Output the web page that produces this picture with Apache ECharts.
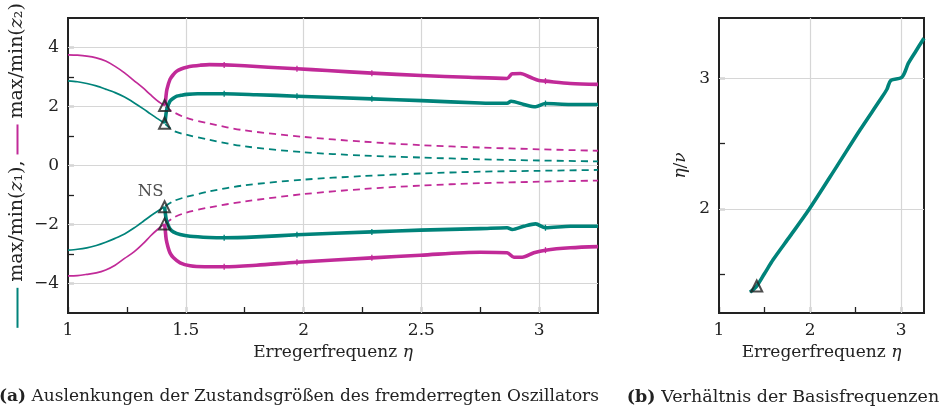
<!DOCTYPE html>
<html>
<head>
<meta charset="utf-8">
<script src="https://cdn.jsdelivr.net/npm/echarts@6/dist/echarts.min.js"></script>
<style>
  html, body { margin: 0; padding: 0; background: #fff; }
  #chart { width: 948px; height: 411px; }
</style>
</head>
<body>
<div id="chart"></div>
<script>
// ---- Left panel: extrema of z1 / z2 over the excitation frequency eta ----
// Branch before the Neimark–Sacker point (periodic solution, stable)
const etaPre   = [1.0, 1.04, 1.08, 1.12, 1.16, 1.2, 1.24, 1.28, 1.32, 1.35, 1.38, 1.41];
const z2MaxPre = [3.75, 3.74, 3.71, 3.65, 3.54, 3.36, 3.14, 2.88, 2.62, 2.40, 2.19, 2.03];
const z1MaxPre = [2.87, 2.84, 2.78, 2.70, 2.59, 2.47, 2.32, 2.13, 1.92, 1.75, 1.59, 1.43];
const z1MinPre = [-2.87, -2.84, -2.79, -2.71, -2.60, -2.47, -2.32, -2.12, -1.89, -1.71, -1.55, -1.40];
const z2MinPre = [-3.74, -3.73, -3.69, -3.64, -3.54, -3.38, -3.15, -2.93, -2.64, -2.39, -2.17, -1.98];

// Quasi-periodic branch after the NS point (stable, thick)
const etaZ2Max = [1.412, 1.416, 1.42, 1.433, 1.447, 1.462, 1.48, 1.504, 1.53, 1.561, 1.6, 1.663, 1.75, 1.85, 1.972, 2.1, 2.29, 2.5, 2.7, 2.864, 2.886, 2.921, 2.963, 2.999, 3.027, 3.133, 3.25];
const z2MaxQp  = [2.03, 2.35, 2.58, 2.92, 3.08, 3.20, 3.27, 3.33, 3.37, 3.40, 3.42, 3.41, 3.38, 3.33, 3.28, 3.22, 3.13, 3.05, 2.99, 2.95, 3.11, 3.12, 2.99, 2.88, 2.86, 2.78, 2.75];
const etaZ1Max = [1.412, 1.416, 1.42, 1.433, 1.447, 1.462, 1.48, 1.504, 1.55, 1.663, 1.8, 1.972, 2.29, 2.5, 2.75, 2.864, 2.881, 2.935, 2.985, 3.027, 3.133, 3.25];
const z1MaxQp  = [1.43, 1.75, 1.92, 2.18, 2.28, 2.35, 2.38, 2.41, 2.43, 2.43, 2.40, 2.35, 2.26, 2.20, 2.12, 2.11, 2.18, 2.07, 1.99, 2.10, 2.07, 2.07];
const etaZ1Min = [1.41, 1.413, 1.417, 1.425, 1.433, 1.447, 1.476, 1.518, 1.6, 1.663, 1.8, 1.972, 2.29, 2.496, 2.751, 2.864, 2.886, 2.935, 2.985, 3.027, 3.133, 3.25];
const z1MinQp  = [-1.40, -1.60, -1.83, -2.02, -2.15, -2.25, -2.34, -2.40, -2.44, -2.45, -2.42, -2.35, -2.25, -2.19, -2.14, -2.11, -2.17, -2.06, -1.98, -2.11, -2.06, -2.06];
const etaZ2Min = [1.41, 1.413, 1.417, 1.425, 1.433, 1.447, 1.476, 1.518, 1.58, 1.663, 1.8, 1.972, 2.29, 2.496, 2.751, 2.864, 2.893, 2.928, 2.978, 3.027, 3.133, 3.25];
const z2MinQp  = [-1.98, -2.20, -2.51, -2.78, -2.96, -3.12, -3.30, -3.40, -3.43, -3.43, -3.38, -3.28, -3.13, -3.04, -2.94, -2.96, -3.11, -3.11, -2.96, -2.87, -2.79, -2.75];
// Continuation checkpoints marked along the quasi-periodic branches
const checkpointEta = [1.663, 1.972, 2.29, 3.027];

// Periodic branch after the NS point (unstable, dashed)
const etaUnst   = [1.413, 1.45, 1.5, 1.6, 1.75, 2.0, 2.25, 2.5, 2.75, 3.0, 3.25];
const z2MaxUnst = [1.98, 1.80, 1.62, 1.42, 1.19, 0.97, 0.81, 0.69, 0.61, 0.55, 0.50];
const z1MaxUnst = [1.40, 1.17, 1.05, 0.87, 0.65, 0.45, 0.34, 0.27, 0.21, 0.17, 0.14];
const z1MinUnst = [-1.38, -1.20, -1.07, -0.88, -0.67, -0.48, -0.36, -0.27, -0.21, -0.18, -0.15];
const z2MinUnst = [-1.96, -1.76, -1.60, -1.42, -1.22, -0.97, -0.80, -0.68, -0.60, -0.55, -0.51];

// Neimark–Sacker bifurcation points
const nsEta    = [1.41, 1.41, 1.41, 1.41];
const nsValues = [2.03, 1.43, -1.40, -1.98];

// ---- Right panel: ratio of the base frequencies eta/nu ----
const etaRatio = [1.34, 1.414, 1.5, 1.597, 1.78, 1.993, 2.293, 2.549, 2.769, 2.843, 2.886, 3.007, 3.08, 3.16, 3.25];
const ratio    = [1.36, 1.407, 1.503, 1.612, 1.79, 2.0, 2.326, 2.607, 2.837, 2.918, 2.986, 3.01, 3.12, 3.21, 3.31];
const nsRatioEta = 1.414, nsRatio = 1.407;

// Tick / label / grid values
const leftTicksX   = [1, 1.25, 1.5, 1.75, 2, 2.25, 2.5, 2.75, 3];
const leftLabelsX  = [1, 1.5, 2, 2.5, 3];
const leftTicksY   = [-4, -3, -2, -1, 0, 1, 2, 3, 4];
const leftLabelsY  = [-4, -2, 0, 2, 4];
const leftGridX    = [1.5, 2, 2.5, 3];
const leftGridY    = [-4, -2, 0, 2, 4];
const rightTicksX  = [1, 1.5, 2, 2.5, 3];
const rightLabelsX = [1, 2, 3];
const rightTicksY  = [1.5, 2, 2.5, 3];
const rightLabelsY = [2, 3];
const rightGridX   = [2, 3];
const rightGridY   = [2, 3];

const TEAL = '#00837a';
const MAGENTA = '#c12a98';
const INK = '#222';
const FONT = 'DejaVu Serif';
const FS = 17;

const zip = (xs, ys) => xs.map((x, i) => [x, ys[i]]);
const fmtNum = v => String(+(+v).toFixed(2)).replace('-', '\u2212');
const isCheckpoint = x => checkpointEta.some(c => Math.abs(c - x) < 1e-6);

function curve(xs, ys, color, width, dashed, grid, marks) {
  return {
    type: 'line',
    xAxisIndex: grid, yAxisIndex: grid,
    data: zip(xs, ys),
    showSymbol: !!marks,
    symbol: 'rect',
    symbolSize: marks ? (v => isCheckpoint(v[0]) ? [1.3, 6] : 0) : 0,
    itemStyle: { color },
    smooth: 0.3,
    lineStyle: { color, width, type: dashed ? [7, 5] : 'solid', cap: 'butt', join: 'round' },
    z: dashed ? 2 : 3,
    silent: true
  };
}

function gridLines(grid, xs, ys) {
  return {
    type: 'line',
    xAxisIndex: grid, yAxisIndex: grid,
    data: [],
    silent: true,
    markLine: {
      silent: true,
      z: 1,
      symbol: ['none', 'none'],
      label: { show: false },
      lineStyle: { color: '#d6d6d6', width: 1.2, type: 'solid' },
      data: xs.map(v => ({ xAxis: v })).concat(ys.map(v => ({ yAxis: v })))
    }
  };
}

function axis(grid, pos, min, max, ticks, labels, extra) {
  return Object.assign({
    type: 'value', gridIndex: grid, position: pos, offset: 0,
    min, max,
    axisLine: { show: true, onZero: false, lineStyle: { color: INK, width: 2 } },
    axisTick: { show: true, inside: true, length: 6, customValues: ticks, lineStyle: { color: INK, width: 1.3 } },
    minorTick: { show: false },
    splitLine: { show: false },
    axisLabel: {
      show: true, inside: false, margin: 9, customValues: labels, formatter: v => fmtNum(v),
      color: INK, fontSize: FS, fontFamily: FONT
    }
  }, extra);
}

const nameStyle = {
  color: INK, fontSize: FS, fontFamily: FONT,
  rich: { i: { fontStyle: 'italic', fontSize: FS, fontFamily: FONT, color: INK } }
};

const chart = echarts.init(document.getElementById('chart'), null, { renderer: 'canvas' });

chart.setOption({
  animation: false,
  backgroundColor: '#fff',
  grid: [
    { left: 68, top: 18, width: 530, height: 295, outerBoundsMode: 'none', containLabel: false,
      show: true, borderColor: INK, borderWidth: 2, backgroundColor: 'transparent' },
    { left: 719, top: 18, width: 205, height: 295, outerBoundsMode: 'none', containLabel: false,
      show: true, borderColor: INK, borderWidth: 2, backgroundColor: 'transparent' }
  ],
  xAxis: [
    axis(0, 'bottom', 1, 3.25, leftTicksX, leftLabelsX, {
      name: 'Erregerfrequenz {i|η}', nameLocation: 'middle', nameGap: 30, nameTextStyle: nameStyle
    }),
    axis(1, 'bottom', 1, 3.25, rightTicksX, rightLabelsX, {
      name: 'Erregerfrequenz {i|η}', nameLocation: 'middle', nameGap: 30, nameTextStyle: nameStyle
    })
  ],
  yAxis: [
    axis(0, 'left', -5, 5, leftTicksY, leftLabelsY, {
      name: '{t| } max/min({i|z}₁), {m| } max/min({i|z}₂)',
      nameLocation: 'middle', nameRotate: 90, nameGap: 41, nameMoveOverlap: false,
      nameTextStyle: {
        color: INK, fontSize: 19, fontFamily: FONT,
        rich: {
          i: { fontStyle: 'italic', fontSize: 19, fontFamily: FONT, color: INK },
          t: { width: 40, height: 2, backgroundColor: TEAL },
          m: { width: 30, height: 2, backgroundColor: MAGENTA }
        }
      }
    }),
    axis(1, 'left', 1.2, 3.465, rightTicksY, rightLabelsY, {
      name: '{i|η}/{i|ν}', nameLocation: 'middle', nameRotate: 90, nameGap: 30, nameMoveOverlap: false,
      nameTextStyle: nameStyle
    })
  ],
  graphic: [
    {
      type: 'text', x: 299, y: 397,
      style: {
        text: '{b|(a)} Auslenkungen der Zustandsgrößen des fremderregten Oszillators',
        align: 'center', verticalAlign: 'middle',
        fill: INK, font: FS + 'px "DejaVu Serif"',
        rich: { b: { fontWeight: 'bold', fontSize: FS, fontFamily: FONT, fill: INK } }
      }
    },
    {
      type: 'text', x: 783, y: 397,
      style: {
        text: '{b|(b)} Verhältnis der Basisfrequenzen',
        align: 'center', verticalAlign: 'middle',
        fill: INK, font: '17.5px "DejaVu Serif"',
        rich: { b: { fontWeight: 'bold', fontSize: 17.5, fontFamily: FONT, fill: INK } }
      }
    }
  ],
  series: [
    gridLines(0, leftGridX, leftGridY),
    gridLines(1, rightGridX, rightGridY),

    curve(etaUnst, z2MaxUnst, MAGENTA, 1.8, true, 0),
    curve(etaUnst, z1MaxUnst, TEAL, 1.8, true, 0),
    curve(etaUnst, z1MinUnst, TEAL, 1.8, true, 0),
    curve(etaUnst, z2MinUnst, MAGENTA, 1.8, true, 0),

    curve(etaPre, z2MaxPre, MAGENTA, 1.7, false, 0),
    curve(etaPre, z1MaxPre, TEAL, 1.7, false, 0),
    curve(etaPre, z1MinPre, TEAL, 1.7, false, 0),
    curve(etaPre, z2MinPre, MAGENTA, 1.7, false, 0),

    curve(etaZ2Max, z2MaxQp, MAGENTA, 3.6, false, 0, true),
    curve(etaZ1Max, z1MaxQp, TEAL, 3.6, false, 0, true),
    curve(etaZ1Min, z1MinQp, TEAL, 3.6, false, 0, true),
    curve(etaZ2Min, z2MinQp, MAGENTA, 3.6, false, 0, true),

    {
      type: 'scatter', xAxisIndex: 0, yAxisIndex: 0,
      data: zip(nsEta, nsValues),
      symbol: 'triangle', symbolSize: 11,
      itemStyle: { color: 'rgba(255,255,255,0)', borderColor: INK, borderWidth: 2 },
      z: 6, silent: true
    },
    {
      type: 'scatter', xAxisIndex: 0, yAxisIndex: 0,
      data: [[1.351, -0.90]],
      symbolSize: 1,
      itemStyle: { color: 'rgba(0,0,0,0)' },
      label: { show: true, position: 'inside', formatter: 'NS', color: INK, fontSize: 16.5, fontFamily: FONT },
      z: 6, silent: true
    },

    curve(etaRatio, ratio, TEAL, 3.6, false, 1),
    {
      type: 'scatter', xAxisIndex: 1, yAxisIndex: 1,
      data: [[nsRatioEta, nsRatio]],
      symbol: 'triangle', symbolSize: 11,
      itemStyle: { color: 'rgba(255,255,255,0)', borderColor: INK, borderWidth: 2 },
      z: 6, silent: true
    }
  ]
});
</script>
</body>
</html>
